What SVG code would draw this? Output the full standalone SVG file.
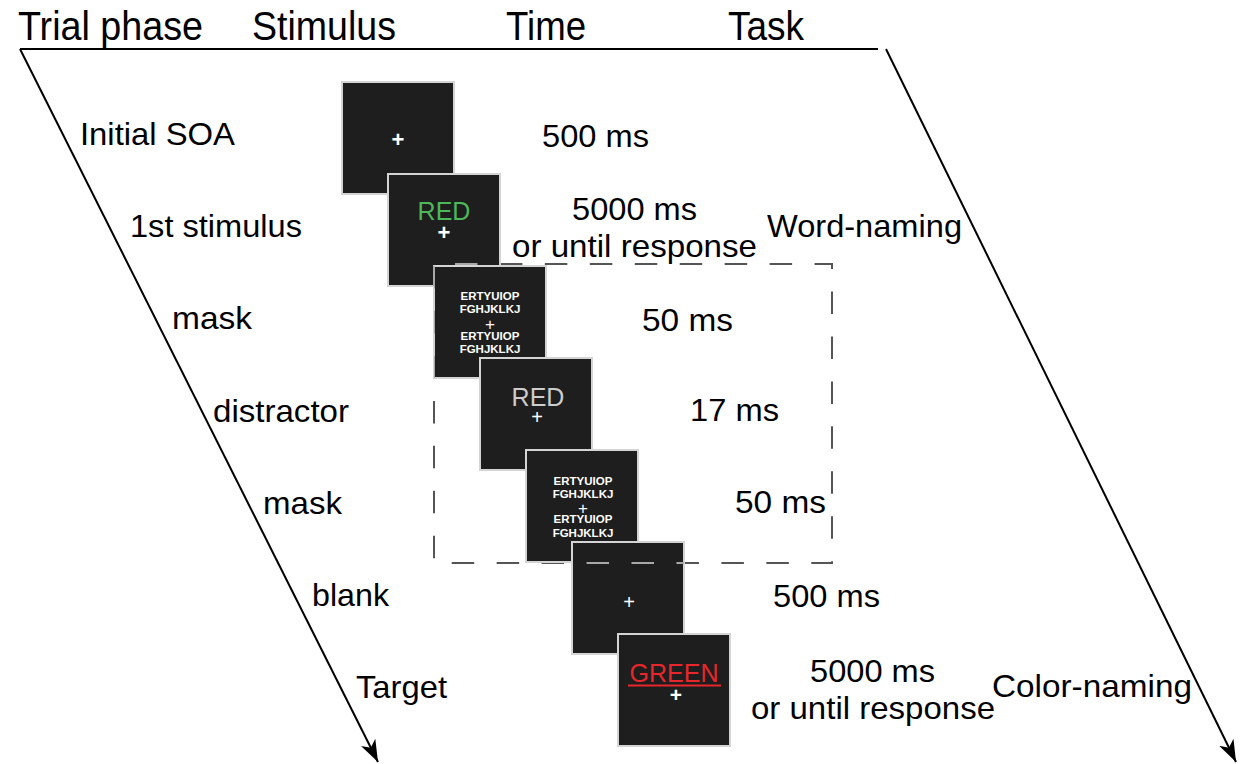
<svg xmlns="http://www.w3.org/2000/svg" width="1241" height="764" viewBox="0 0 1241 764">
<style>
.hd{font-family:"Liberation Sans",Arial,Helvetica,sans-serif;font-size:40px;fill:#000}
.lb{font-family:"Liberation Sans",Arial,Helvetica,sans-serif;font-size:32px;fill:#000}
.sq{fill:#1e1e1e;stroke:#d4d4d4;stroke-width:2}
.pl{font-family:"Liberation Sans",Arial,Helvetica,sans-serif;fill:#fff;text-anchor:middle}
.mk{font-family:"Liberation Sans",Arial,Helvetica,sans-serif;font-size:11.5px;font-weight:bold;fill:#fff;text-anchor:middle}
.wd{font-family:"Liberation Sans",Arial,Helvetica,sans-serif;font-size:25px;text-anchor:middle}
.ax{fill:none;stroke:#000;stroke-width:2}
.dash{fill:none;stroke-width:2;stroke-dasharray:22.5 22.45;stroke-dashoffset:24}
</style>
<defs>
<marker id="arr" markerUnits="userSpaceOnUse" markerWidth="24" markerHeight="16" refX="22" refY="8" orient="auto">
<path d="M0,0 L22,8 L0,16 L6,8 Z" fill="#000"/>
</marker>
<clipPath id="sqclip">
<rect x="342" y="82" width="112" height="112"/>
<rect x="388" y="174" width="112" height="112"/>
<rect x="434" y="266" width="112" height="112"/>
<rect x="480" y="358" width="112" height="112"/>
<rect x="526" y="450" width="112" height="112"/>
<rect x="572" y="542" width="112" height="112"/>
<rect x="618" y="634" width="112" height="112"/>
</clipPath>
</defs>
<rect width="1241" height="764" fill="#fff"/>

<g id="headers">
<text class="hd" x="18" y="40" textLength="185" lengthAdjust="spacingAndGlyphs">Trial phase</text>
<text class="hd" x="252" y="40" textLength="144" lengthAdjust="spacingAndGlyphs">Stimulus</text>
<text class="hd" x="506" y="40" textLength="80" lengthAdjust="spacingAndGlyphs">Time</text>
<text class="hd" x="728" y="40" textLength="76" lengthAdjust="spacingAndGlyphs">Task</text>
</g>

<g id="connectors">
<line class="ax" x1="20" y1="49" x2="878" y2="49"/>
<line class="ax" x1="20" y1="49" x2="378" y2="762" marker-end="url(#arr)"/>
<line class="ax" x1="886" y1="49" x2="1236" y2="762" marker-end="url(#arr)"/>
</g>

<g id="phase-labels">
<text class="lb" x="80" y="145" textLength="155" lengthAdjust="spacingAndGlyphs">Initial SOA</text>
<text class="lb" x="130" y="237" textLength="172" lengthAdjust="spacingAndGlyphs">1st stimulus</text>
<text class="lb" x="172" y="329" textLength="80" lengthAdjust="spacingAndGlyphs">mask</text>
<text class="lb" x="213" y="422" textLength="136" lengthAdjust="spacingAndGlyphs">distractor</text>
<text class="lb" x="263" y="514" textLength="79" lengthAdjust="spacingAndGlyphs">mask</text>
<text class="lb" x="312" y="606" textLength="77" lengthAdjust="spacingAndGlyphs">blank</text>
<text class="lb" x="356" y="698" textLength="91" lengthAdjust="spacingAndGlyphs">Target</text>
</g>

<g id="dashed-box-under">
<rect class="dash" x="434" y="264" width="398" height="299" stroke="#555"/>
</g>

<g id="s1-initial">
<rect class="sq" x="342" y="82" width="112" height="112"/>
<text class="pl" x="398" y="147" font-size="22" font-weight="bold">+</text>
</g>
<g id="s2-first">
<rect class="sq" x="388" y="174" width="112" height="112"/>
<text class="wd" x="444" y="220" fill="#4cb85a">RED</text>
<text class="pl" x="444" y="240" font-size="22" font-weight="bold">+</text>
</g>
<g id="s3-mask">
<rect class="sq" x="434" y="266" width="112" height="112"/>
<text class="mk" x="490" y="300">ERTYUIOP</text>
<text class="mk" x="490" y="313">FGHJKLKJ</text>
<text class="pl" x="490" y="330" font-size="17">+</text>
<text class="mk" x="490" y="340">ERTYUIOP</text>
<text class="mk" x="490" y="353">FGHJKLKJ</text>
</g>
<g id="s4-distractor">
<rect class="sq" x="480" y="358" width="112" height="112"/>
<text class="wd" x="538" y="406" fill="#cccccc">RED</text>
<text class="pl" x="537" y="424" font-size="20">+</text>
</g>
<g id="s5-mask">
<rect class="sq" x="526" y="450" width="112" height="112"/>
<text class="mk" x="583" y="485">ERTYUIOP</text>
<text class="mk" x="583" y="498">FGHJKLKJ</text>
<text class="pl" x="583" y="514" font-size="17">+</text>
<text class="mk" x="583" y="523">ERTYUIOP</text>
<text class="mk" x="583" y="537">FGHJKLKJ</text>
</g>
<g id="s6-blank">
<rect class="sq" x="572" y="542" width="112" height="112"/>
<text class="pl" x="629" y="609" font-size="20">+</text>
</g>
<g id="s7-target">
<rect class="sq" x="618" y="634" width="112" height="112"/>
<text class="wd" x="674" y="682" fill="#e8262b">GREEN</text>
<line x1="628" y1="685.5" x2="721" y2="685.5" stroke="#e8262b" stroke-width="2"/>
<text class="pl" x="676" y="702" font-size="21" font-weight="bold">+</text>
</g>

<g id="dashed-box-over" clip-path="url(#sqclip)">
<rect class="dash" x="434" y="264" width="398" height="299" stroke="#a8a8a8"/>
</g>

<g id="time-labels">
<text class="lb" x="542" y="147" textLength="107" lengthAdjust="spacingAndGlyphs">500 ms</text>
<text class="lb" x="572" y="220" textLength="125" lengthAdjust="spacingAndGlyphs">5000 ms</text>
<text class="lb" x="512" y="257" textLength="245" lengthAdjust="spacingAndGlyphs">or until response</text>
<text class="lb" x="642" y="331" textLength="91" lengthAdjust="spacingAndGlyphs">50 ms</text>
<text class="lb" x="690" y="421" textLength="89" lengthAdjust="spacingAndGlyphs">17 ms</text>
<text class="lb" x="735" y="513" textLength="91" lengthAdjust="spacingAndGlyphs">50 ms</text>
<text class="lb" x="773" y="607" textLength="107" lengthAdjust="spacingAndGlyphs">500 ms</text>
<text class="lb" x="810" y="682" textLength="125" lengthAdjust="spacingAndGlyphs">5000 ms</text>
<text class="lb" x="751" y="719" textLength="244" lengthAdjust="spacingAndGlyphs">or until response</text>
</g>

<g id="task-labels">
<text class="lb" x="767" y="237" textLength="195" lengthAdjust="spacingAndGlyphs">Word-naming</text>
<text class="lb" x="992" y="697" textLength="200" lengthAdjust="spacingAndGlyphs">Color-naming</text>
</g>
</svg>
